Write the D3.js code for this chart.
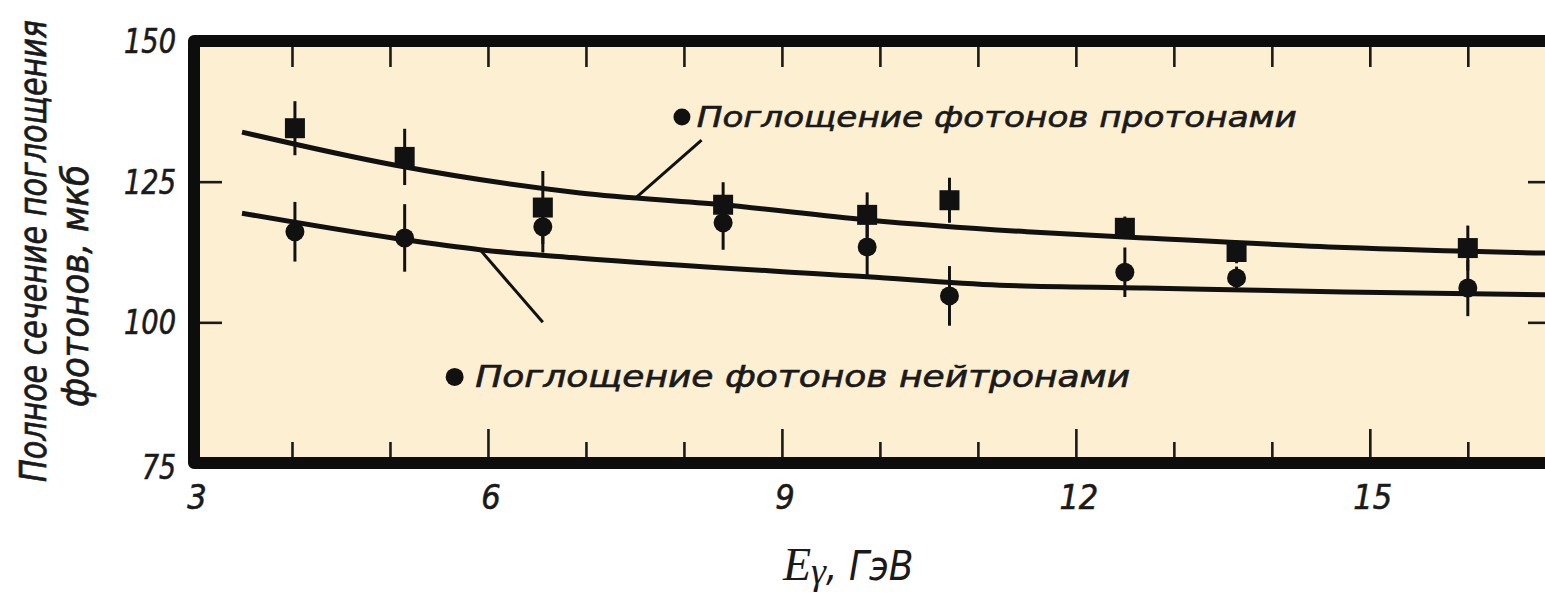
<!DOCTYPE html>
<html>
<head>
<meta charset="utf-8">
<style>
body { margin: 0; background: #fff; }
svg { display: block; }
.frame { fill: none; stroke: #0d0d0d; stroke-width: 12px; stroke-linejoin: round; }
.lbl { font-family: "DejaVu Sans Condensed", "Liberation Sans Narrow", sans-serif; font-style: italic; fill: #1a1a1a; stroke: #1a1a1a; stroke-width: 0.6px; }
</style>
</head>
<body>
<svg width="1545" height="594"></svg>
<script src="https://d3js.org/d3.v7.min.js"></script>
<script>

// measured points (E in GeV, sigma in microbarn)
var energy       = [4.03, 5.15, 6.56, 8.40, 9.87, 10.71, 12.50, 13.64, 16.00];
var protonSigma  = [134.5, 129.4, 120.4, 120.9, 119.1, 121.7, 116.8, 112.5, 113.2];
var protonErr    = [4.8, 5.0, 6.5, 4.0, 4.0, 4.0, 2.0, 2.0, 4.0];
var neutronSigma = [116.1, 115.0, 117.0, 117.7, 113.4, 104.7, 108.9, 107.9, 106.1];
var neutronErr   = [5.3, 6.0, 4.6, 4.8, 5.3, 5.3, 4.4, 2.0, 5.0];

// smooth fit curves
var protonCurveE  = [3.49, 5.03, 6.94, 8.40, 9.87, 11.5, 12.70, 14.74, 16.79];
var protonCurveS  = [133.8, 128.0, 123.0, 120.9, 118.2, 116.1, 115.0, 113.3, 112.3];
var neutronCurveE = [3.49, 5.03, 5.92, 6.94, 9.87, 11.22, 12.70, 14.74, 16.79];
var neutronCurveS = [119.4, 115.0, 112.9, 111.4, 108.1, 106.6, 106.1, 105.4, 104.9];

// axis ticks
var xLabels = [3, 6, 9, 12, 15];
var xMajor = [6, 9, 12, 15];
var xMinor = [4, 5, 7, 8, 10, 11, 13, 14, 16];
var xAll = [4, 5, 6, 7, 8, 9, 10, 11, 12, 13, 14, 15, 16];
var yLabels = [75, 100, 125, 150];
var yTicks = [100, 125];

// annotations
var protonLabel = "Поглощение фотонов протонами";
var neutronLabel = "Поглощение  фотонов нейтронами";
var protonPointer = [[7.52, 122.3], [8.18, 132.4]];
var neutronPointer = [[5.92, 112.9], [6.56, 100.0]];

var svg = d3.select("svg");

var x = d3.scaleLinear().domain([3, 16.9]).range([194, 1556]);
var y = d3.scaleLinear().domain([75, 150]).range([463, 41]);

// plot background
svg.append("rect")
    .attr("x", x(3)).attr("y", y(150))
    .attr("width", x(16.9) - x(3)).attr("height", y(75) - y(150))
    .attr("fill", "#fdf0d2");

function ticks(axis, tx, ty) {
  var g = svg.append("g")
      .attr("transform", "translate(" + tx + "," + ty + ")")
      .call(axis);
  g.select(".domain").remove();
  g.selectAll("text").remove();
  g.selectAll("line").attr("stroke", "#1a1a1a").attr("stroke-width", 2.6);
}

ticks(d3.axisTop(x).tickValues(xAll).tickSize(-26), 0, y(150));
ticks(d3.axisBottom(x).tickValues(xMinor).tickSize(-21), 0, y(75));
ticks(d3.axisBottom(x).tickValues(xMajor).tickSize(-34), 0, y(75));
ticks(d3.axisLeft(y).tickValues(yTicks).tickSize(-28), x(3), 0);
ticks(d3.axisRight(y).tickValues(yTicks).tickSize(-28), x(16.9), 0);

// thick frame
svg.append("rect")
    .attr("class", "frame")
    .attr("x", x(3)).attr("y", y(150))
    .attr("width", x(16.9) - x(3)).attr("height", y(75) - y(150));

// tick labels
svg.selectAll(".xl").data(xLabels).enter().append("text")
    .attr("class", "lbl xl")
    .attr("x", function(d) { return x(d) + 3; })
    .attr("y", 497)
    .attr("text-anchor", "middle")
    .attr("dominant-baseline", "central")
    .attr("font-size", 34)
    .text(function(d) { return d; });

svg.selectAll(".yl").data(yLabels).enter().append("text")
    .attr("class", "lbl yl")
    .attr("x", 176)
    .attr("y", function(d) { return y(d) + (d === 75 ? 4 : 0); })
    .attr("text-anchor", "end")
    .attr("dominant-baseline", "central")
    .attr("font-size", 34)
    .attr("textLength", function(d) { return d >= 100 ? 52 : 34; })
    .attr("lengthAdjust", "spacingAndGlyphs")
    .text(function(d) { return d; });

// fit curves
var line = d3.line()
    .x(function(d) { return x(d[0]); })
    .y(function(d) { return y(d[1]); })
    .curve(d3.curveMonotoneX);

svg.append("path")
    .datum(d3.zip(protonCurveE, protonCurveS))
    .attr("d", line)
    .attr("fill", "none").attr("stroke", "#111").attr("stroke-width", 5);

svg.append("path")
    .datum(d3.zip(neutronCurveE, neutronCurveS))
    .attr("d", line)
    .attr("fill", "none").attr("stroke", "#111").attr("stroke-width", 5);

// pointer lines to legend labels
[protonPointer, neutronPointer].forEach(function(p) {
  svg.append("path")
      .datum(p)
      .attr("d", d3.line().x(function(d) { return x(d[0]); }).y(function(d) { return y(d[1]); }))
      .attr("stroke", "#111").attr("stroke-width", 3);
});

// error bars
var protons = energy.map(function(e, i) { return {e: e, s: protonSigma[i], err: protonErr[i]}; });
var neutrons = energy.map(function(e, i) { return {e: e, s: neutronSigma[i], err: neutronErr[i]}; });

svg.selectAll(".eb").data(protons.concat(neutrons)).enter().append("line")
    .attr("x1", function(d) { return x(d.e); })
    .attr("x2", function(d) { return x(d.e); })
    .attr("y1", function(d) { return y(d.s + d.err); })
    .attr("y2", function(d) { return y(d.s - d.err); })
    .attr("stroke", "#111").attr("stroke-width", 3);

// neutrons: filled circles
svg.selectAll(".nc").data(neutrons).enter().append("circle")
    .attr("cx", function(d) { return x(d.e); })
    .attr("cy", function(d) { return y(d.s); })
    .attr("r", 9.5)
    .attr("fill", "#111");

// protons: filled squares
svg.selectAll(".ps").data(protons).enter().append("rect")
    .attr("x", function(d) { return x(d.e) - 10; })
    .attr("y", function(d) { return y(d.s) - 10; })
    .attr("width", 20).attr("height", 20)
    .attr("fill", "#111");

// legend labels
svg.append("circle").attr("cx", x(7.98)).attr("cy", y(136.5)).attr("r", 8.5).attr("fill", "#111");
svg.append("text")
    .attr("class", "lbl")
    .attr("x", x(8.13)).attr("y", y(134.7))
    .attr("font-size", 29)
    .attr("textLength", 600)
    .attr("lengthAdjust", "spacingAndGlyphs")
    .text(protonLabel);

svg.append("circle").attr("cx", x(5.66)).attr("cy", y(90.3)).attr("r", 9).attr("fill", "#111");
svg.append("text")
    .attr("class", "lbl")
    .attr("x", x(5.87)).attr("y", y(88.5))
    .attr("font-size", 30)
    .attr("textLength", 655)
    .attr("lengthAdjust", "spacingAndGlyphs")
    .text(neutronLabel);

// y axis title (two rotated lines)
svg.append("text")
    .attr("class", "lbl")
    .attr("transform", "translate(46,482) rotate(-90) scale(1,1.12)")
    .attr("font-size", 34)
    .attr("textLength", 462)
    .attr("lengthAdjust", "spacingAndGlyphs")
    .text("Полное сечение поглощения");

svg.append("text")
    .attr("class", "lbl")
    .attr("transform", "translate(88,407) rotate(-90) scale(1,1.12)")
    .attr("font-size", 34)
    .attr("textLength", 242)
    .attr("lengthAdjust", "spacingAndGlyphs")
    .text("фотонов, мкб");

// x axis title
var xt = svg.append("text")
    .attr("x", 783).attr("y", 580)
    .attr("fill", "#1a1a1a");
xt.append("tspan")
    .attr("font-family", "'Liberation Serif', 'DejaVu Serif', serif")
    .attr("font-style", "italic")
    .attr("font-size", 46)
    .text("E");
xt.append("tspan")
    .attr("font-family", "'Liberation Serif', 'DejaVu Serif', serif")
    .attr("font-style", "italic")
    .attr("font-size", 38)
    .attr("dy", 4)
    .text("γ");
xt.append("tspan")
    .attr("font-family", "'DejaVu Sans Condensed', sans-serif")
    .attr("font-style", "italic")
    .attr("font-size", 40)
    .attr("dy", -4)
    .text(", ГэВ");

</script>
</body>
</html>
